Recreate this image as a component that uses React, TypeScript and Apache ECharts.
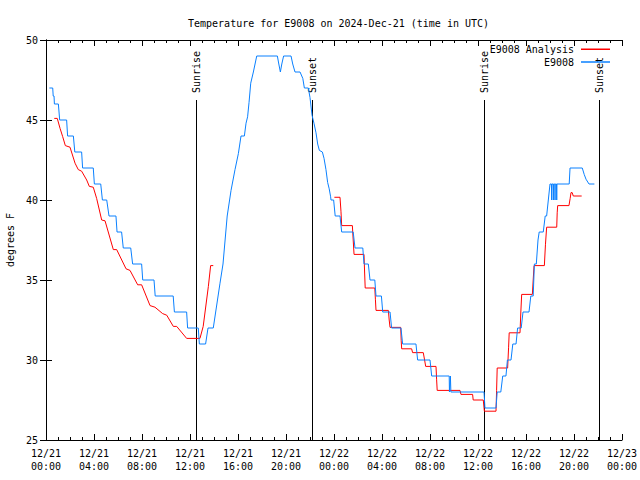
import React, { useEffect, useRef } from "react";
import * as echarts from "echarts";

// Hours since 12/21 00:00 UTC, temperature in degrees F
const analysisDay1: [number, number][] = [
  [0.69, 45.1], [0.94, 45.1], [1.17, 44.48], [1.39, 43.96], [1.61, 43.4], [2.0, 43.3],
  [2.42, 42.3], [2.69, 41.9], [2.97, 41.8], [3.39, 41.25], [3.61, 40.85], [3.94, 40.8],
  [4.22, 40.1], [4.64, 38.75], [4.92, 38.7], [5.61, 36.9], [5.89, 36.9], [6.67, 35.7],
  [7.0, 35.6], [7.64, 34.7], [7.97, 34.7], [8.67, 33.4], [9.08, 33.3], [9.72, 32.9],
  [10.06, 32.8], [10.61, 32.1], [10.89, 32.1], [11.72, 31.35], [12.83, 31.35], [13.1, 32.1],
  [13.53, 34.6], [13.72, 35.9], [13.94, 35.9],
];

const analysisDay2: [number, number][] = [
  [24.03, 40.17], [24.5, 40.17], [24.58, 39.3], [24.64, 38.4], [25.53, 38.4], [25.6, 37.5],
  [25.67, 36.6], [26.5, 36.6], [26.55, 35.5], [26.6, 34.5], [27.4, 34.5], [27.45, 33.8],
  [27.5, 33.1], [28.53, 33.1], [28.6, 32.5], [28.67, 32.04], [29.56, 32.04], [29.6, 31.2],
  [29.64, 30.7], [30.47, 30.7], [30.55, 30.46], [31.44, 30.46], [31.55, 30.0], [31.64, 29.6],
  [32.5, 29.6], [32.55, 28.8], [32.6, 28.1], [34.5, 28.1], [34.58, 27.85], [35.55, 27.85],
  [35.6, 27.5], [36.44, 27.5], [36.53, 26.8], [37.5, 26.8], [37.55, 28.1], [37.6, 29.5],
  [38.47, 29.5], [38.55, 30.8], [38.6, 31.7], [39.5, 31.7], [39.57, 33.0], [39.64, 34.1],
  [40.53, 34.1], [40.6, 35.0], [40.67, 35.9], [41.53, 35.9], [41.62, 37.2], [41.72, 38.3],
  [42.56, 38.3], [42.6, 39.2], [42.64, 39.65], [43.58, 39.65], [43.68, 40.1], [43.75, 40.46],
  [43.85, 40.46], [43.94, 40.25], [44.64, 40.25],
];

const observed: [number, number][] = [
  [0.28, 47], [0.56, 47], [0.6, 46.5], [0.67, 46.5], [0.7, 46], [1.03, 46], [1.14, 45],
  [1.72, 45], [1.8, 44], [2.28, 44], [2.4, 43], [2.97, 43], [3.05, 42], [3.94, 42],
  [4.03, 41], [4.56, 41], [4.7, 40], [5.06, 40], [5.25, 39], [5.83, 39], [5.92, 38],
  [6.3, 38], [6.44, 37], [7.06, 37], [7.22, 36], [7.97, 36], [8.06, 35], [9.0, 35],
  [9.1, 34], [10.6, 34], [10.7, 33], [11.72, 33], [11.8, 32], [12.69, 32], [12.78, 31],
  [13.3, 31], [13.5, 32], [13.94, 32], [14.5, 34.8], [14.75, 36], [15.1, 39], [15.42, 40.6],
  [15.75, 41.9], [16.03, 42.9], [16.25, 44], [16.53, 44], [16.67, 44.8], [16.8, 45.2],
  [16.92, 46.1], [17.06, 47.3], [17.28, 48], [17.56, 49], [19.28, 49], [19.4, 48.5],
  [19.53, 48], [19.65, 48.5], [19.8, 49], [20.42, 49], [20.56, 48.5], [20.75, 48],
  [21.17, 48], [21.4, 47.6], [21.53, 47], [21.86, 47], [22.0, 46.4], [22.17, 45.3],
  [22.33, 44.8], [22.5, 44.2], [22.64, 43.5], [22.78, 43.1], [23.03, 43], [23.17, 42.6],
  [23.33, 41.9], [23.47, 41.1], [23.6, 40.7], [23.72, 40.2], [23.75, 40], [23.97, 40],
  [24.1, 39], [24.5, 39], [24.64, 38], [25.6, 38], [25.75, 37], [26.4, 37], [26.5, 36],
  [26.86, 36], [27.0, 35], [27.4, 35], [27.5, 34], [27.95, 34], [28.06, 33], [28.67, 33],
  [28.8, 32], [29.58, 32], [29.72, 31], [30.83, 31], [30.97, 30], [32.0, 30], [32.14, 29],
  [33.6, 29], [33.62, 28], [33.7, 29], [33.74, 28], [36.5, 28], [36.58, 27], [37.5, 27],
  [37.6, 28], [37.9, 28], [38.06, 29], [38.33, 29], [38.45, 30], [38.75, 30], [38.9, 31],
  [39.17, 31], [39.3, 32], [39.6, 32], [39.75, 33], [40.25, 33], [40.4, 34], [40.6, 34],
  [40.7, 36], [40.86, 36], [41.0, 37.5], [41.1, 38], [41.44, 38], [41.6, 39], [41.72, 39],
  [41.86, 40], [42.0, 41], [42.12, 41], [42.14, 40], [42.16, 41], [42.26, 41], [42.28, 40],
  [42.3, 41], [42.4, 41], [42.42, 40], [42.44, 41], [42.54, 41], [42.56, 40], [42.58, 41],
  [43.6, 41], [43.67, 42], [44.69, 42], [44.85, 41.6], [45.0, 41.3], [45.25, 41], [45.7, 41],
];

const sunEventHours = [12.5, 22.19, 36.53, 46.1];
const sunEventNames = ["Sunrise", "Sunset", "Sunrise", "Sunset"];

const xTickLabels = [
  "12/21\n00:00", "12/21\n04:00", "12/21\n08:00", "12/21\n12:00", "12/21\n16:00",
  "12/21\n20:00", "12/22\n00:00", "12/22\n04:00", "12/22\n08:00", "12/22\n12:00",
  "12/22\n16:00", "12/22\n20:00", "12/23\n00:00",
];

const X_MIN = 0;
const X_MAX = 48;
const Y_MIN = 25;
const Y_MAX = 50;
const SUN_TOP = Y_MIN + 0.85 * (Y_MAX - Y_MIN);

const FONT = '"DejaVu Sans Mono", monospace';
const RED = "#ff0000";
const BLUE = "#0a80ff";

export default function App() {
  const ref = useRef<HTMLDivElement>(null);

  useEffect(() => {
    if (!ref.current) return;
    const chart = echarts.init(ref.current, null, { renderer: "svg" });
    const text = { fontFamily: FONT, fontSize: 10, color: "#000" };
    const axisLine = { show: true, lineStyle: { color: "#000", width: 1 } };
    const legendBase = {
      right: 30,
      padding: 0,
      align: "right",
      icon: "rect",
      itemWidth: 29,
      itemHeight: 1.5,
      selectedMode: false,
      textStyle: { ...text, padding: [0, 2, 0, 0] },
    };

    chart.setOption({
      animation: false,
      backgroundColor: "#fff",
      title: {
        text: "Temperature for E9008 on 2024-Dec-21 (time in UTC)",
        left: 183,
        top: 13,
        textStyle: { ...text, fontWeight: "normal" },
      },
      legend: [
        { ...legendBase, data: ["E9008 Analysis"], top: 44.25 },
        { ...legendBase, data: ["E9008"], top: 57 },
      ],
      grid: {
        left: 46,
        right: 18,
        top: 40,
        bottom: 40,
        containLabel: false,
        outerBoundsMode: "none",
      },
      xAxis: [
        {
          type: "value",
          min: X_MIN,
          max: X_MAX,
          interval: 4,
          position: "bottom",
          axisLine,
          axisTick: { show: true, inside: true, length: 6, lineStyle: { color: "#000" } },
          minorTick: { show: true, splitNumber: 4, length: 3, lineStyle: { color: "#000" } },
          splitLine: { show: false },
          axisLabel: {
            ...text,
            margin: 7,
            lineHeight: 13,
            formatter: (v: number) => xTickLabels[Math.round(v / 4)] ?? "",
          },
        },
        {
          type: "value",
          min: X_MIN,
          max: X_MAX,
          interval: 4,
          position: "top",
          axisLine,
          axisTick: { show: true, inside: true, length: 6, lineStyle: { color: "#000" } },
          minorTick: { show: true, splitNumber: 4, length: 3, lineStyle: { color: "#000" } },
          splitLine: { show: false },
          axisLabel: { show: false },
        },
      ],
      yAxis: [
        {
          type: "value",
          min: Y_MIN,
          max: Y_MAX,
          interval: 5,
          position: "left",
          name: "degrees F",
          nameLocation: "middle",
          nameRotate: 90,
          nameGap: 31,
          nameTextStyle: text,
          axisLine,
          axisTick: { show: true, inside: true, length: 6, lineStyle: { color: "#000" } },
          splitLine: { show: false },
          axisLabel: { ...text, margin: 8 },
        },
        {
          type: "value",
          min: Y_MIN,
          max: Y_MAX,
          interval: 5,
          position: "right",
          axisLine,
          axisTick: { show: true, inside: true, length: 6, lineStyle: { color: "#000" } },
          splitLine: { show: false },
          axisLabel: { show: false },
        },
      ],
      series: [
        {
          type: "custom",
          name: "sun",
          xAxisIndex: 0,
          yAxisIndex: 0,
          data: sunEventHours.map((h) => [h, SUN_TOP]),
          renderItem: (params: any, api: any) => {
            const x = api.value(0);
            const p0 = api.coord([x, Y_MIN]);
            const p1 = api.coord([x, SUN_TOP]);
            const px = Math.round(p0[0]) + 0.5;
            return {
              type: "group",
              children: [
                {
                  type: "line",
                  shape: { x1: px, y1: p0[1], x2: px, y2: p1[1] },
                  style: { stroke: "#000", lineWidth: 1 },
                },
                {
                  type: "text",
                  x: px,
                  y: p1[1] - 7,
                  rotation: Math.PI / 2,
                  style: {
                    text: sunEventNames[params.dataIndex],
                    align: "left",
                    verticalAlign: "middle",
                    font: `10px ${FONT}`,
                    fill: "#000",
                  },
                },
              ],
            };
          },
          z: 1,
        },
        {
          type: "line",
          name: "E9008 Analysis",
          data: analysisDay1,
          symbol: "none",
          lineStyle: { color: RED, width: 1 },
          itemStyle: { color: RED },
          z: 2,
        },
        {
          type: "line",
          name: "E9008 Analysis",
          data: analysisDay2,
          symbol: "none",
          lineStyle: { color: RED, width: 1 },
          itemStyle: { color: RED },
          z: 2,
        },
        {
          type: "line",
          name: "E9008",
          data: observed,
          symbol: "none",
          lineStyle: { color: BLUE, width: 1 },
          itemStyle: { color: BLUE },
          z: 3,
        },
      ],
    });

    return () => chart.dispose();
  }, []);

  return (
    <div
      ref={ref}
      style={{ position: "fixed", left: 0, top: 0, width: 640, height: 480, background: "#fff" }}
    />
  );
}
